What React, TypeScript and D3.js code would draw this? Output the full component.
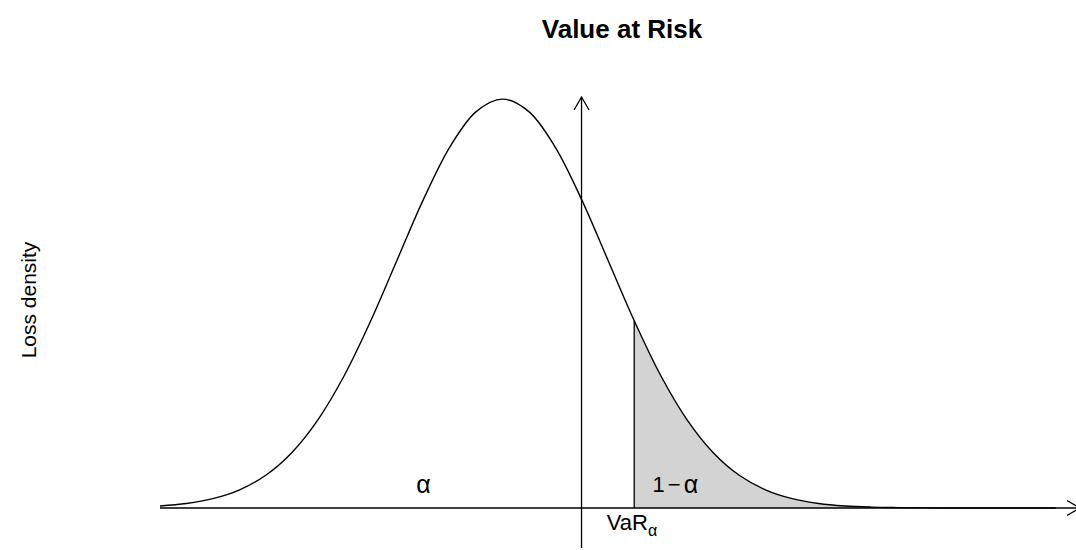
import React from 'react';
import * as d3 from 'd3';

// loss values (x) and density
const lossX = [
  -4, -3.75, -3.5, -3.25, -3, -2.75, -2.5, -2.25, -2, -1.75, -1.5, -1.25, -1, -0.75,
  -0.5, -0.25, 0, 0.25, 0.5, 0.75, 1, 1.25, 1.5, 1.75, 2, 2.25, 2.5, 2.75, 3, 3.25,
  3.5, 3.75, 4, 4.25, 4.5,
];
const lossDensity = [
  0.002, 0.0044, 0.0091, 0.0175, 0.0317, 0.054, 0.0863, 0.1295, 0.1827, 0.242, 0.3011,
  0.3521, 0.3867, 0.3989, 0.3867, 0.3521, 0.3011, 0.242, 0.1827, 0.1295, 0.0863, 0.054,
  0.0317, 0.0175, 0.0091, 0.0044, 0.002, 0.0009, 0.0004, 0.0001, 0.00005, 0, 0, 0, 0,
];
const varLevel = 0.5;
const xAxisExtent = [-4, 4.73];
const yAxisExtent = [-0.039, 0.401];

const title = 'Value at Risk';
const yLabel = 'Loss density';

const W = 1076;
const H = 550;
const font = '"Liberation Sans", Arial, Helvetica, sans-serif';

const App = () => {
  const x = d3.scaleLinear().domain(xAxisExtent).range([160, 1080]);
  const y = d3.scaleLinear().domain([0, 0.4]).range([508, 98]);

  const pts = lossX.map((v, i) => ({ x: v, d: lossDensity[i] }));

  const line = d3.line<any>()
    .x(p => x(p.x))
    .y(p => y(p.d))
    .curve(d3.curveCatmullRom);

  const area = d3.area<any>()
    .x(p => x(p.x))
    .y0(y(0))
    .y1(p => y(p.d))
    .curve(d3.curveCatmullRom);

  const varIdx = lossX.indexOf(varLevel);
  const varY = y(lossDensity[varIdx]);

  const x0 = x(xAxisExtent[0]);
  const x1 = x(xAxisExtent[1]);
  const yTop = y(yAxisExtent[1]);
  const yBot = y(yAxisExtent[0]);
  const ax = x(0);
  const base = y(0);
  const L = 15;
  const a = Math.PI / 6;

  return (
    <svg width={W} height={H} style={{ position: 'absolute', left: 0, top: 0, background: '#fff' }}
      fontFamily={font}>
      <defs>
        <clipPath id="tail">
          <rect x={x(varLevel)} y={0} width={W} height={H} />
        </clipPath>
      </defs>

      <path d={area(pts) || ''} fill="#d3d3d3" clipPath="url(#tail)" />
      <line x1={x(varLevel)} x2={x(varLevel)} y1={base} y2={varY} stroke="#000" strokeWidth={1.3} />

      {/* x axis with arrow */}
      <line x1={x0} x2={x1} y1={base} y2={base} stroke="#000" strokeWidth={1.3} />
      <path
        d={`M${x1 - L * Math.cos(a)},${base - L * Math.sin(a)}L${x1},${base}L${x1 - L * Math.cos(a)},${base + L * Math.sin(a)}`}
        fill="none" stroke="#000" strokeWidth={1.3} />

      {/* y axis with arrow */}
      <line x1={ax} x2={ax} y1={yBot} y2={yTop} stroke="#000" strokeWidth={1.3} />
      <path
        d={`M${ax - L * Math.sin(a)},${yTop + L * Math.cos(a)}L${ax},${yTop}L${ax + L * Math.sin(a)},${yTop + L * Math.cos(a)}`}
        fill="none" stroke="#000" strokeWidth={1.3} />

      <path d={line(pts) || ''} fill="none" stroke="#000" strokeWidth={1.4} />

      <text x={x(-1.5)} y={y(0.021)} fontSize={25} textAnchor="middle" dominantBaseline="middle">α</text>
      <text x={x(0.89)} y={y(0.021)} fontSize={22} textAnchor="middle" dominantBaseline="middle">
        1<tspan dx={3}>−</tspan><tspan dx={3} fontSize={25}>α</tspan>
      </text>
      <text x={x(0.24)} y={y(-0.021)} fontSize={22}>
        VaR<tspan fontSize={16} dy={6}>α</tspan>
      </text>

      <text x={622} y={38} fontSize={26} fontWeight="bold" textAnchor="middle">{title}</text>
      <text transform="translate(36,300) rotate(-90)" fontSize={21} textAnchor="middle">{yLabel}</text>
    </svg>
  );
};

export default App;
